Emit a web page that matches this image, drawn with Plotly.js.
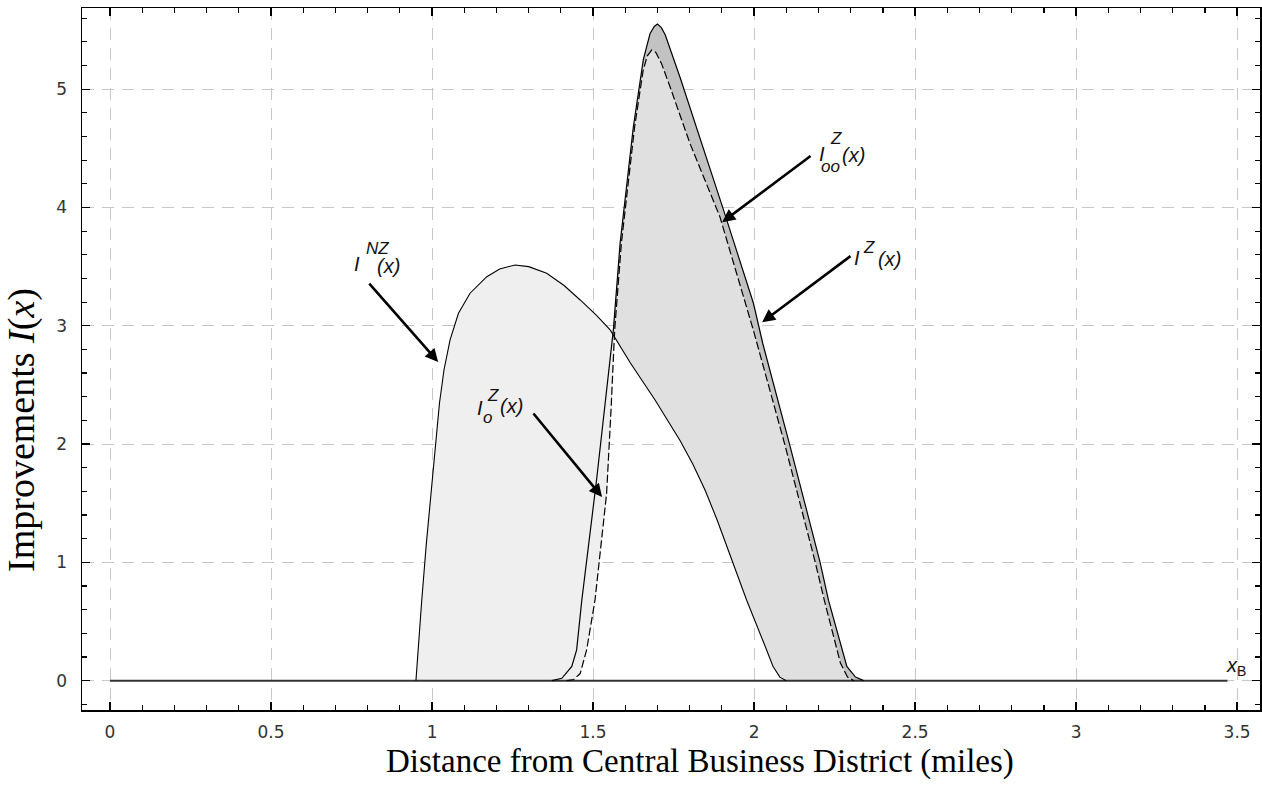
<!DOCTYPE html>
<html><head><meta charset="utf-8">
<script src="https://cdn.plot.ly/plotly-3.0.1.min.js"></script>
<style>html,body{margin:0;padding:0;background:#fff}#chart{width:1262px;height:802px}</style>
</head><body><div id="chart"></div>
<script>
// ---- data ----
const xTickVals = [0, 0.5, 1, 1.5, 2, 2.5, 3, 3.5];
const xTickText = ['0', '0.5', '1', '1.5', '2', '2.5', '3', '3.5'];
const yTickVals = [0, 1, 2, 3, 4, 5];
const yTickText = ['0', '1', '2', '3', '4', '5'];

// baseline (no improvements) out to x_B
const baseX = [0, 3.47];
const baseY = [0, 0];

// I^NZ(x)
const nzX = [0.950, 0.955, 0.962, 0.968, 0.982, 0.996, 1.009, 1.023, 1.037, 1.056, 1.082, 1.118, 1.170, 1.210, 1.258, 1.300, 1.356, 1.410, 1.460, 1.510, 1.553, 1.615, 1.693, 1.770, 1.810, 1.848, 1.885, 1.925, 1.977, 2.030, 2.059, 2.080, 2.100];
const nzY = [0.00, 0.20, 0.45, 0.68, 1.15, 1.555, 1.978, 2.345, 2.626, 2.880, 3.106, 3.275, 3.415, 3.480, 3.514, 3.500, 3.444, 3.340, 3.218, 3.090, 2.965, 2.690, 2.370, 2.030, 1.830, 1.610, 1.360, 1.060, 0.680, 0.320, 0.120, 0.030, 0.00];

// I^Z(x)  (outer solid)
const zX = [1.372, 1.403, 1.434, 1.449, 1.465, 1.511, 1.563, 1.584, 1.625, 1.656, 1.677, 1.690, 1.700, 1.712, 1.724, 1.745, 1.770, 1.905, 1.998, 2.027, 2.110, 2.205, 2.231, 2.288, 2.315, 2.340];
const zY = [0.00, 0.02, 0.12, 0.26, 0.68, 1.70, 2.965, 3.70, 4.68, 5.25, 5.47, 5.53, 5.55, 5.52, 5.46, 5.30, 5.10, 3.98, 3.19, 2.85, 2.00, 1.00, 0.68, 0.12, 0.03, 0.00];

// I_o^Z(x)  (dashed, inner)
const oX = [1.418, 1.440, 1.460, 1.480, 1.506, 1.542, 1.556, 1.567, 1.588, 1.629, 1.655, 1.668, 1.682, 1.695, 1.712, 1.739, 1.801, 1.894, 1.998, 2.095, 2.190, 2.218, 2.268, 2.290, 2.310];
const oY = [0.00, 0.01, 0.06, 0.26, 0.68, 1.58, 2.30, 2.96, 3.70, 4.68, 5.15, 5.28, 5.33, 5.31, 5.22, 5.02, 4.54, 3.92, 2.96, 2.00, 1.00, 0.68, 0.15, 0.03, 0.00];

// ---- helpers to build the shaded regions from the curves ----
function interp(xs, ys, x) {
  if (x < xs[0] || x > xs[xs.length - 1]) return 0;
  for (let i = 1; i < xs.length; i++) {
    if (x <= xs[i]) {
      const t = (x - xs[i - 1]) / (xs[i] - xs[i - 1]);
      return ys[i - 1] + t * (ys[i] - ys[i - 1]);
    }
  }
  return 0;
}
let U = Array.from(new Set([].concat(nzX, zX, oX))).sort((a, b) => a - b);
const extra = [];
for (let i = 1; i < U.length; i++) {
  const d0 = interp(nzX, nzY, U[i - 1]) - interp(oX, oY, U[i - 1]);
  const d1 = interp(nzX, nzY, U[i]) - interp(oX, oY, U[i]);
  if (d0 * d1 < 0) extra.push(U[i - 1] + (U[i] - U[i - 1]) * d0 / (d0 - d1));
}
U = U.concat(extra).sort((a, b) => a - b);
const nzU = U.map(x => interp(nzX, nzY, x));
const oU = U.map(x => interp(oX, oY, x));
const zU = U.map(x => interp(zX, zY, x));
const minU = U.map((x, i) => Math.min(nzU[i], oU[i]));

const noLine = {width: 0, color: 'rgba(0,0,0,0)'};
const traces = [
  // band between I_o^Z and I^Z
  {x: U, y: oU, mode: 'lines', line: noLine, hoverinfo: 'skip'},
  {x: U, y: zU, mode: 'lines', line: noLine, fill: 'tonexty', fillcolor: '#c2c2c2', hoverinfo: 'skip'},
  // zoned area above the no-zoning curve
  {x: U, y: minU, mode: 'lines', line: noLine, hoverinfo: 'skip'},
  {x: U, y: oU, mode: 'lines', line: noLine, fill: 'tonexty', fillcolor: '#e0e0e0', hoverinfo: 'skip'},
  // no-zoning area outside the zoned curve
  {x: U, y: minU, mode: 'lines', line: noLine, hoverinfo: 'skip'},
  {x: U, y: nzU, mode: 'lines', line: noLine, fill: 'tonexty', fillcolor: '#efefef', hoverinfo: 'skip'},
  {x: baseX, y: baseY, mode: 'lines', line: {color: '#333', width: 2}},
  {x: nzX, y: nzY, mode: 'lines', line: {color: '#000', width: 1.1}},
  {x: oX, y: oY, mode: 'lines', line: {color: '#000', width: 1.2, dash: '8px,3px'}},
  {x: zX, y: zY, mode: 'lines', line: {color: '#000', width: 1.2}}
];

const lblFont = {family: 'Liberation Sans, Arial, sans-serif', size: 20, color: '#111'};
const subFont = {family: 'Liberation Sans, Arial, sans-serif', size: 17, color: '#111'};
function piece(x, y, t, f) {
  return {x: x, y: y, xref: 'x', yref: 'y', text: '<i>' + t + '</i>', showarrow: false, font: f, xanchor: 'center', yanchor: 'middle'};
}
function arrow(x, y, ax, ay) {
  return {x: x, y: y, ax: ax, ay: ay, xref: 'x', yref: 'y', axref: 'x', ayref: 'y', text: '', showarrow: true,
    arrowhead: 2, arrowsize: 1, arrowwidth: 2.6, arrowcolor: '#000', standoff: 0, startstandoff: 0};
}

const annotations = [
  // I^NZ(x)
  piece(0.767, 3.526, 'I', lblFont), piece(0.830, 3.650, 'NZ', subFont), piece(0.866, 3.509, '(x)', lblFont),
  arrow(1.019, 2.694, 0.801, 3.369),
  // I_o^Z(x)
  piece(1.149, 2.303, 'I', lblFont), piece(1.190, 2.410, 'Z', subFont), piece(1.171, 2.225, 'o', subFont), piece(1.247, 2.320, '(x)', lblFont),
  arrow(1.528, 1.553, 1.311, 2.271),
  // I_oo^Z(x)
  piece(2.211, 4.452, 'I', lblFont), piece(2.253, 4.585, 'Z', subFont), piece(2.236, 4.345, 'oo', subFont), piece(2.309, 4.444, '(x)', lblFont),
  arrow(1.901, 3.876, 2.180, 4.444),
  // I^Z(x)
  piece(2.321, 3.577, 'I', lblFont), piece(2.358, 3.660, 'Z', subFont), piece(2.420, 3.568, '(x)', lblFont),
  arrow(2.025, 3.030, 2.304, 3.598),
  // x_B
  {x: 3.497, y: 0.12, xref: 'x', yref: 'y', text: '<i>x</i><sub>B</sub>', showarrow: false, font: {family: 'Liberation Sans, Arial, sans-serif', size: 20, color: '#111'}, xanchor: 'center', yanchor: 'middle'},
  // axis titles
  {x: 0.5246, y: -0.074, xref: 'paper', yref: 'paper', text: 'Distance from Central Business District (miles)', showarrow: false,
    font: {family: 'Liberation Serif, Times New Roman, serif', size: 33, color: '#000'}, xanchor: 'center', yanchor: 'middle'},
  {x: -0.0509, y: 0.399, xref: 'paper', yref: 'paper', text: 'Improvements <i>I</i>(<i>x</i>)', showarrow: false, textangle: -90,
    font: {family: 'Liberation Serif, Times New Roman, serif', size: 38, color: '#000'}, xanchor: 'center', yanchor: 'middle'}
];

const axBase = {
  ticks: 'inside', ticklen: 8, tickwidth: 1.3, tickcolor: '#000',
  showline: true, linecolor: '#000', linewidth: 1.5, mirror: 'ticks',
  showgrid: true, gridcolor: '#c8c8c8', gridwidth: 1, griddash: '12px,8px',
  zeroline: false, tickfont: {family: 'DejaVu Sans, sans-serif', size: 17, color: '#333'}
};

const layout = {
  width: 1262, height: 802,
  margin: {l: 82, r: 2, t: 8, b: 92},
  paper_bgcolor: '#fff', plot_bgcolor: '#fff',
  showlegend: false, hovermode: false,
  xaxis: Object.assign({}, axBase, {
    range: [-0.087, 3.571], tickmode: 'array', tickvals: xTickVals, ticktext: xTickText, ticklabelstandoff: 6,
    minor: {dtick: 0.1, tick0: 0, ticks: 'inside', ticklen: 5, tickwidth: 1.2, tickcolor: '#000', showgrid: false}
  }),
  yaxis: Object.assign({}, axBase, {
    range: [-0.248, 5.686], tickmode: 'array', tickvals: yTickVals, ticktext: yTickText, ticklabelstandoff: 10,
    minor: {dtick: 0.2, tick0: 0, ticks: 'inside', ticklen: 5, tickwidth: 1.2, tickcolor: '#000', showgrid: false}
  }),
  annotations: annotations
};

Plotly.newPlot('chart', traces, layout, {displayModeBar: false, staticPlot: true});
</script>
</body></html>
